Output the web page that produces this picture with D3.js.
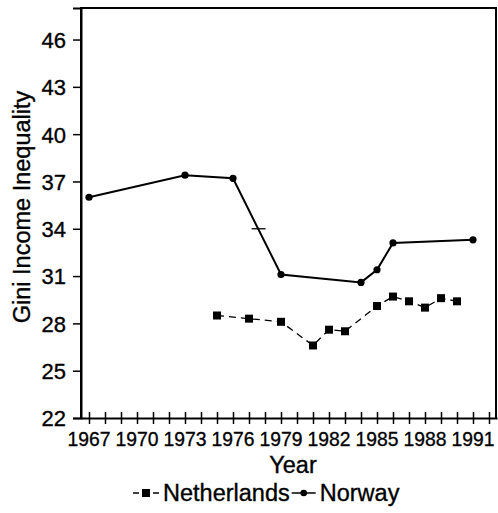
<!DOCTYPE html>
<html>
<head>
<meta charset="utf-8">
<script src="https://cdn.jsdelivr.net/npm/d3@7"></script>
<style>
  html, body { margin: 0; padding: 0; background: #fff; }
  svg text { font-family: "Liberation Sans", Arial, Helvetica, sans-serif; fill: #000; stroke: #000; stroke-width: 0.35px; }
</style>
</head>
<body>
<svg id="chart" width="498" height="513"></svg>
<script>
// ---- data ----
const norwayYears = [1967, 1973, 1976, 1979, 1984, 1985, 1986, 1991];
const norwayValues = [36.0, 37.4, 37.2, 31.1, 30.6, 31.4, 33.1, 33.3];
const norwayMarkYears = [1977.6];
const norwayMarkValues = [34.0];
const netherlandsYears = [1975, 1977, 1979, 1981, 1982, 1983, 1985, 1986, 1987, 1988, 1989, 1990];
const netherlandsValues = [28.5, 28.3, 28.1, 26.6, 27.6, 27.5, 29.1, 29.7, 29.4, 29.0, 29.6, 29.4];
const yTicks = [22, 25, 28, 31, 34, 37, 40, 43, 46];
const xMinorTicks = d3.range(1967, 1993);
const xLabelTicks = [1967, 1970, 1973, 1976, 1979, 1982, 1985, 1988, 1991];
const yTitle = "Gini Income Inequality";
const xTitle = "Year";
const seriesNames = ["Netherlands", "Norway"];

// ---- layout ----
const svg = d3.select("#chart");
const L = 81, R = 496, T = 8, B = 418;
const x = d3.scaleLinear().domain([1966.5, 1992.5]).range([L, R + 1]);
const y = d3.scaleLinear().domain([22, 48]).range([B, T]);
const titleSize = 23.5;

// frame
svg.append("path")
  .attr("d", `M${L},${B} L${L},${T} L${R},${T} L${R},${B}`)
  .attr("fill", "none").attr("stroke", "#000").attr("stroke-width", 2);

// y axis
const yAxis = svg.append("g").attr("transform", `translate(${L},0)`)
  .call(d3.axisLeft(y).tickValues(yTicks).tickSize(8).tickPadding(7).tickFormat(d3.format("d")));
yAxis.select(".domain").attr("stroke-width", 2);
yAxis.selectAll(".tick line").attr("stroke-width", 1.5);
yAxis.selectAll(".tick text").attr("font-size", 22).attr("dy", "0.36em");

// x axis (ticks crossing the axis line)
const xAxis = svg.append("g").attr("transform", `translate(0,${B})`)
  .call(d3.axisBottom(x).tickValues(xMinorTicks).tickSizeInner(6).tickSizeOuter(0).tickFormat(""));
xAxis.select(".domain").attr("stroke-width", 2);
xAxis.selectAll(".tick line").attr("y1", -6).attr("y2", 6).attr("stroke-width", 1.5);
svg.append("g").selectAll("text").data(xLabelTicks).join("text")
  .attr("x", d => x(d)).attr("y", B + 28)
  .attr("text-anchor", "middle").attr("font-size", 21)
  .attr("textLength", 43).attr("lengthAdjust", "spacingAndGlyphs")
  .text(d => d);

// titles
svg.append("text")
  .attr("transform", `translate(30,207) rotate(-90)`)
  .attr("text-anchor", "middle").attr("font-size", titleSize)
  .text(yTitle);
svg.append("text")
  .attr("x", 293).attr("y", 473).attr("text-anchor", "middle").attr("font-size", titleSize)
  .text(xTitle);

// lines
const line = d3.line().x(d => x(d[0])).y(d => y(d[1]));
const norway = norwayYears.map((d, i) => [d, norwayValues[i]]);
const neth = netherlandsYears.map((d, i) => [d, netherlandsValues[i]]);

svg.append("path").datum(neth).attr("d", line)
  .attr("fill", "none").attr("stroke", "#000").attr("stroke-width", 1.3)
  .attr("stroke-dasharray", "7,5");
svg.append("g").selectAll("rect").data(neth).join("rect")
  .attr("x", d => x(d[0]) - 4).attr("y", d => y(d[1]) - 4)
  .attr("width", 8).attr("height", 8).attr("fill", "#000");

svg.append("path").datum(norway).attr("d", line)
  .attr("fill", "none").attr("stroke", "#000").attr("stroke-width", 2);
svg.append("g").selectAll("circle").data(norway).join("circle")
  .attr("cx", d => x(d[0])).attr("cy", d => y(d[1])).attr("r", 3.6).attr("fill", "#000");
svg.append("g").selectAll("line").data(norwayMarkYears.map((d, i) => [d, norwayMarkValues[i]])).join("line")
  .attr("x1", d => x(d[0]) - 7).attr("x2", d => x(d[0]) + 7)
  .attr("y1", d => y(d[1])).attr("y2", d => y(d[1]))
  .attr("stroke", "#000").attr("stroke-width", 1.3);

// legend
const lg = svg.append("g").attr("transform", "translate(0,501)");
lg.append("line").attr("x1", 133).attr("x2", 139).attr("y1", -8).attr("y2", -8).attr("stroke", "#000").attr("stroke-width", 1.5);
lg.append("rect").attr("x", 142).attr("y", -12).attr("width", 8).attr("height", 8).attr("fill", "#000");
lg.append("line").attr("x1", 153).attr("x2", 159).attr("y1", -8).attr("y2", -8).attr("stroke", "#000").attr("stroke-width", 1.5);
const t1 = lg.append("text").attr("x", 163).attr("y", 0).attr("font-size", titleSize).text(seriesNames[0]);
const x2 = 163 + t1.node().getComputedTextLength() + 2;
lg.append("line").attr("x1", x2).attr("x2", x2 + 24).attr("y1", -8).attr("y2", -8).attr("stroke", "#000").attr("stroke-width", 1.5);
lg.append("circle").attr("cx", x2 + 12).attr("cy", -8).attr("r", 3.3).attr("fill", "#000");
lg.append("text").attr("x", x2 + 28).attr("y", 0).attr("font-size", titleSize).text(seriesNames[1]);
</script>
</body>
</html>
